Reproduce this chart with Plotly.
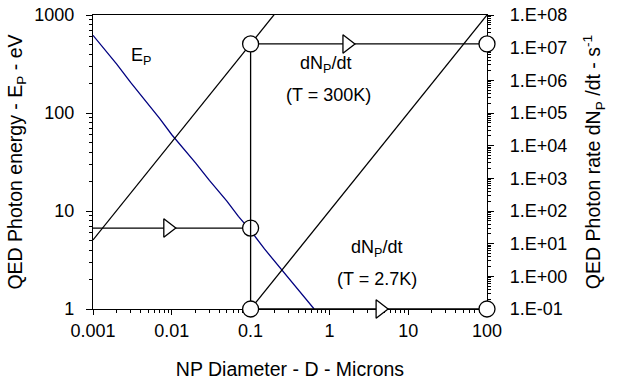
import math
import plotly.graph_objects as go

# --- data ---
# Photon energy E_P (left axis, eV) vs diameter D (microns)
ep_d = [0.001, 0.002, 0.003, 0.005, 0.007, 0.01, 0.015, 0.02, 0.03, 0.05, 0.07, 0.1, 0.15, 0.2, 0.3, 0.5, 0.64]
ep_e = [620, 315, 205, 125, 88, 60, 41, 31, 20.5, 12.6, 8.8, 6.3, 4.1, 3.1, 2.05, 1.25, 1.0]

# dN_P/dt at 300K (right axis, s^-1)
r300_d = [0.001, 0.1, 0.2]
r300_r = [13, 1.3e7, 1.04e8]

# dN_P/dt at 2.7K (right axis)
r27_d = [0.1, 100]
r27_r = [0.1, 1e8]

# construction lines
e_level_d = [0.001, 0.1]      # horizontal arrow at E(0.1 um)
e_level_e = [6.7, 6.7]
vert_d = [0.1, 0.1]           # vertical line at D = 0.1 (right axis units)
vert_r = [0.1, 1.3e7]
top_d = [0.1, 100]            # rate level at 300K
top_r = [1.3e7, 1.3e7]
bot_d = [0.1, 100]            # rate level at 2.7K
bot_r = [0.1, 0.1]

# markers
circ_left_d = [0.1]
circ_left_e = [6.7]
circ_right_d = [0.1, 100, 0.1, 100]
circ_right_r = [1.3e7, 1.3e7, 0.1, 0.1]
tri_left_d = [0.0089]
tri_left_e = [6.7]
tri_right_d = [1.67, 4.4]
tri_right_r = [1.3e7, 0.1]

rate_tickvals = [0.1, 1, 10, 100, 1e3, 1e4, 1e5, 1e6, 1e7, 1e8]
rate_ticktext = ["1.E-01", "1.E+00", "1.E+01", "1.E+02", "1.E+03", "1.E+04",
                 "1.E+05", "1.E+06", "1.E+07", "1.E+08"]

FONT = "Liberation Sans, Arial, sans-serif"
LW = 1.3

fig = go.Figure()

def line(x, y, axis="y", color="black"):
    fig.add_trace(go.Scatter(x=x, y=y, mode="lines", yaxis=axis,
                             line=dict(color=color, width=LW),
                             showlegend=False, hoverinfo="skip"))

line(ep_d, ep_e, "y", "#000080")
line(r300_d, r300_r, "y2")
line(r27_d, r27_r, "y2")
line(e_level_d, e_level_e, "y")
line(vert_d, vert_r, "y2")
line(top_d, top_r, "y2")
line(bot_d, bot_r, "y2")

def markers(x, y, axis, symbol, size):
    fig.add_trace(go.Scatter(x=x, y=y, mode="markers", yaxis=axis, cliponaxis=False,
                             marker=dict(symbol=symbol, size=size, color="white",
                                         line=dict(color="black", width=LW)),
                             showlegend=False, hoverinfo="skip"))

markers(tri_left_d, tri_left_e, "y", "triangle-right", 16)
markers(tri_right_d, tri_right_r, "y2", "triangle-right", 16)
markers(circ_left_d, circ_left_e, "y", "circle", 16)
markers(circ_right_d, circ_right_r, "y2", "circle", 16)

tickfont = dict(family=FONT, size=18, color="black")
titlefont = dict(family=FONT, size=19.5, color="black")
minor = dict(ticks="outside", ticklen=3, tickcolor="black", dtick="D1", showgrid=False)

fig.update_layout(
    width=619, height=386,
    margin=dict(l=93, r=132, t=15, b=77),
    paper_bgcolor="white", plot_bgcolor="white",
    font=dict(family=FONT, color="black"),
    hovermode=False,
    xaxis=dict(type="log", range=[-3, 2], dtick=1, showgrid=False, zeroline=False,
               automargin=False, ticklabeloverflow="allow",
               showline=True, linecolor="black", linewidth=LW, mirror=True,
               ticks="outside", ticklen=5, tickcolor="black", tickfont=tickfont,
               minor=minor, layer="below traces",
               title=dict(text="NP Diameter - D - Microns", font=titlefont, standoff=22)),
    yaxis=dict(type="log", range=[0, 3], dtick=1, showgrid=False, zeroline=False,
               automargin=False, ticklabeloverflow="allow",
               showline=True, linecolor="black", linewidth=LW,
               ticks="outside", ticklen=6, tickcolor="black", tickfont=tickfont,
               ticklabelstandoff=8,
               minor=minor, layer="below traces",
               title=dict(text="QED Photon energy - E<sub>P</sub> - eV", font=titlefont, standoff=6)),
    yaxis2=dict(type="log", range=[-1, 8], overlaying="y", side="right",
                automargin=False, ticklabeloverflow="allow",
                tickmode="array", tickvals=rate_tickvals, ticktext=rate_ticktext,
                showgrid=False, zeroline=False,
                showline=True, linecolor="black", linewidth=LW,
                ticks="outside", ticklen=6, tickcolor="black", tickfont=tickfont,
                ticklabelstandoff=12,
                minor=minor, layer="below traces",
                title=dict(text="QED Photon rate dN<sub>P</sub> /dt - s<sup>-1</sup>", font=titlefont, standoff=20)),
)

ann_font = dict(family=FONT, size=18, color="black")
def note(text, x, y):
    fig.add_annotation(text=text, x=x, y=y, xref="x", yref="y", showarrow=False, font=ann_font)

note("E<sub>P</sub>", math.log10(0.0041), math.log10(373))
note("dN<sub>P</sub>/dt", math.log10(0.88), math.log10(316))
note("(T = 300K)", math.log10(0.96), math.log10(153))
note("dN<sub>P</sub>/dt", math.log10(4.0), math.log10(4.1))
note("(T = 2.7K)", math.log10(4.0), math.log10(2.02))

# remove the default 8px page margin so the figure sits at the window's corner
fig.write_html("out.html", config={"displayModeBar": False},
               post_script="document.body.style.margin='0';")
